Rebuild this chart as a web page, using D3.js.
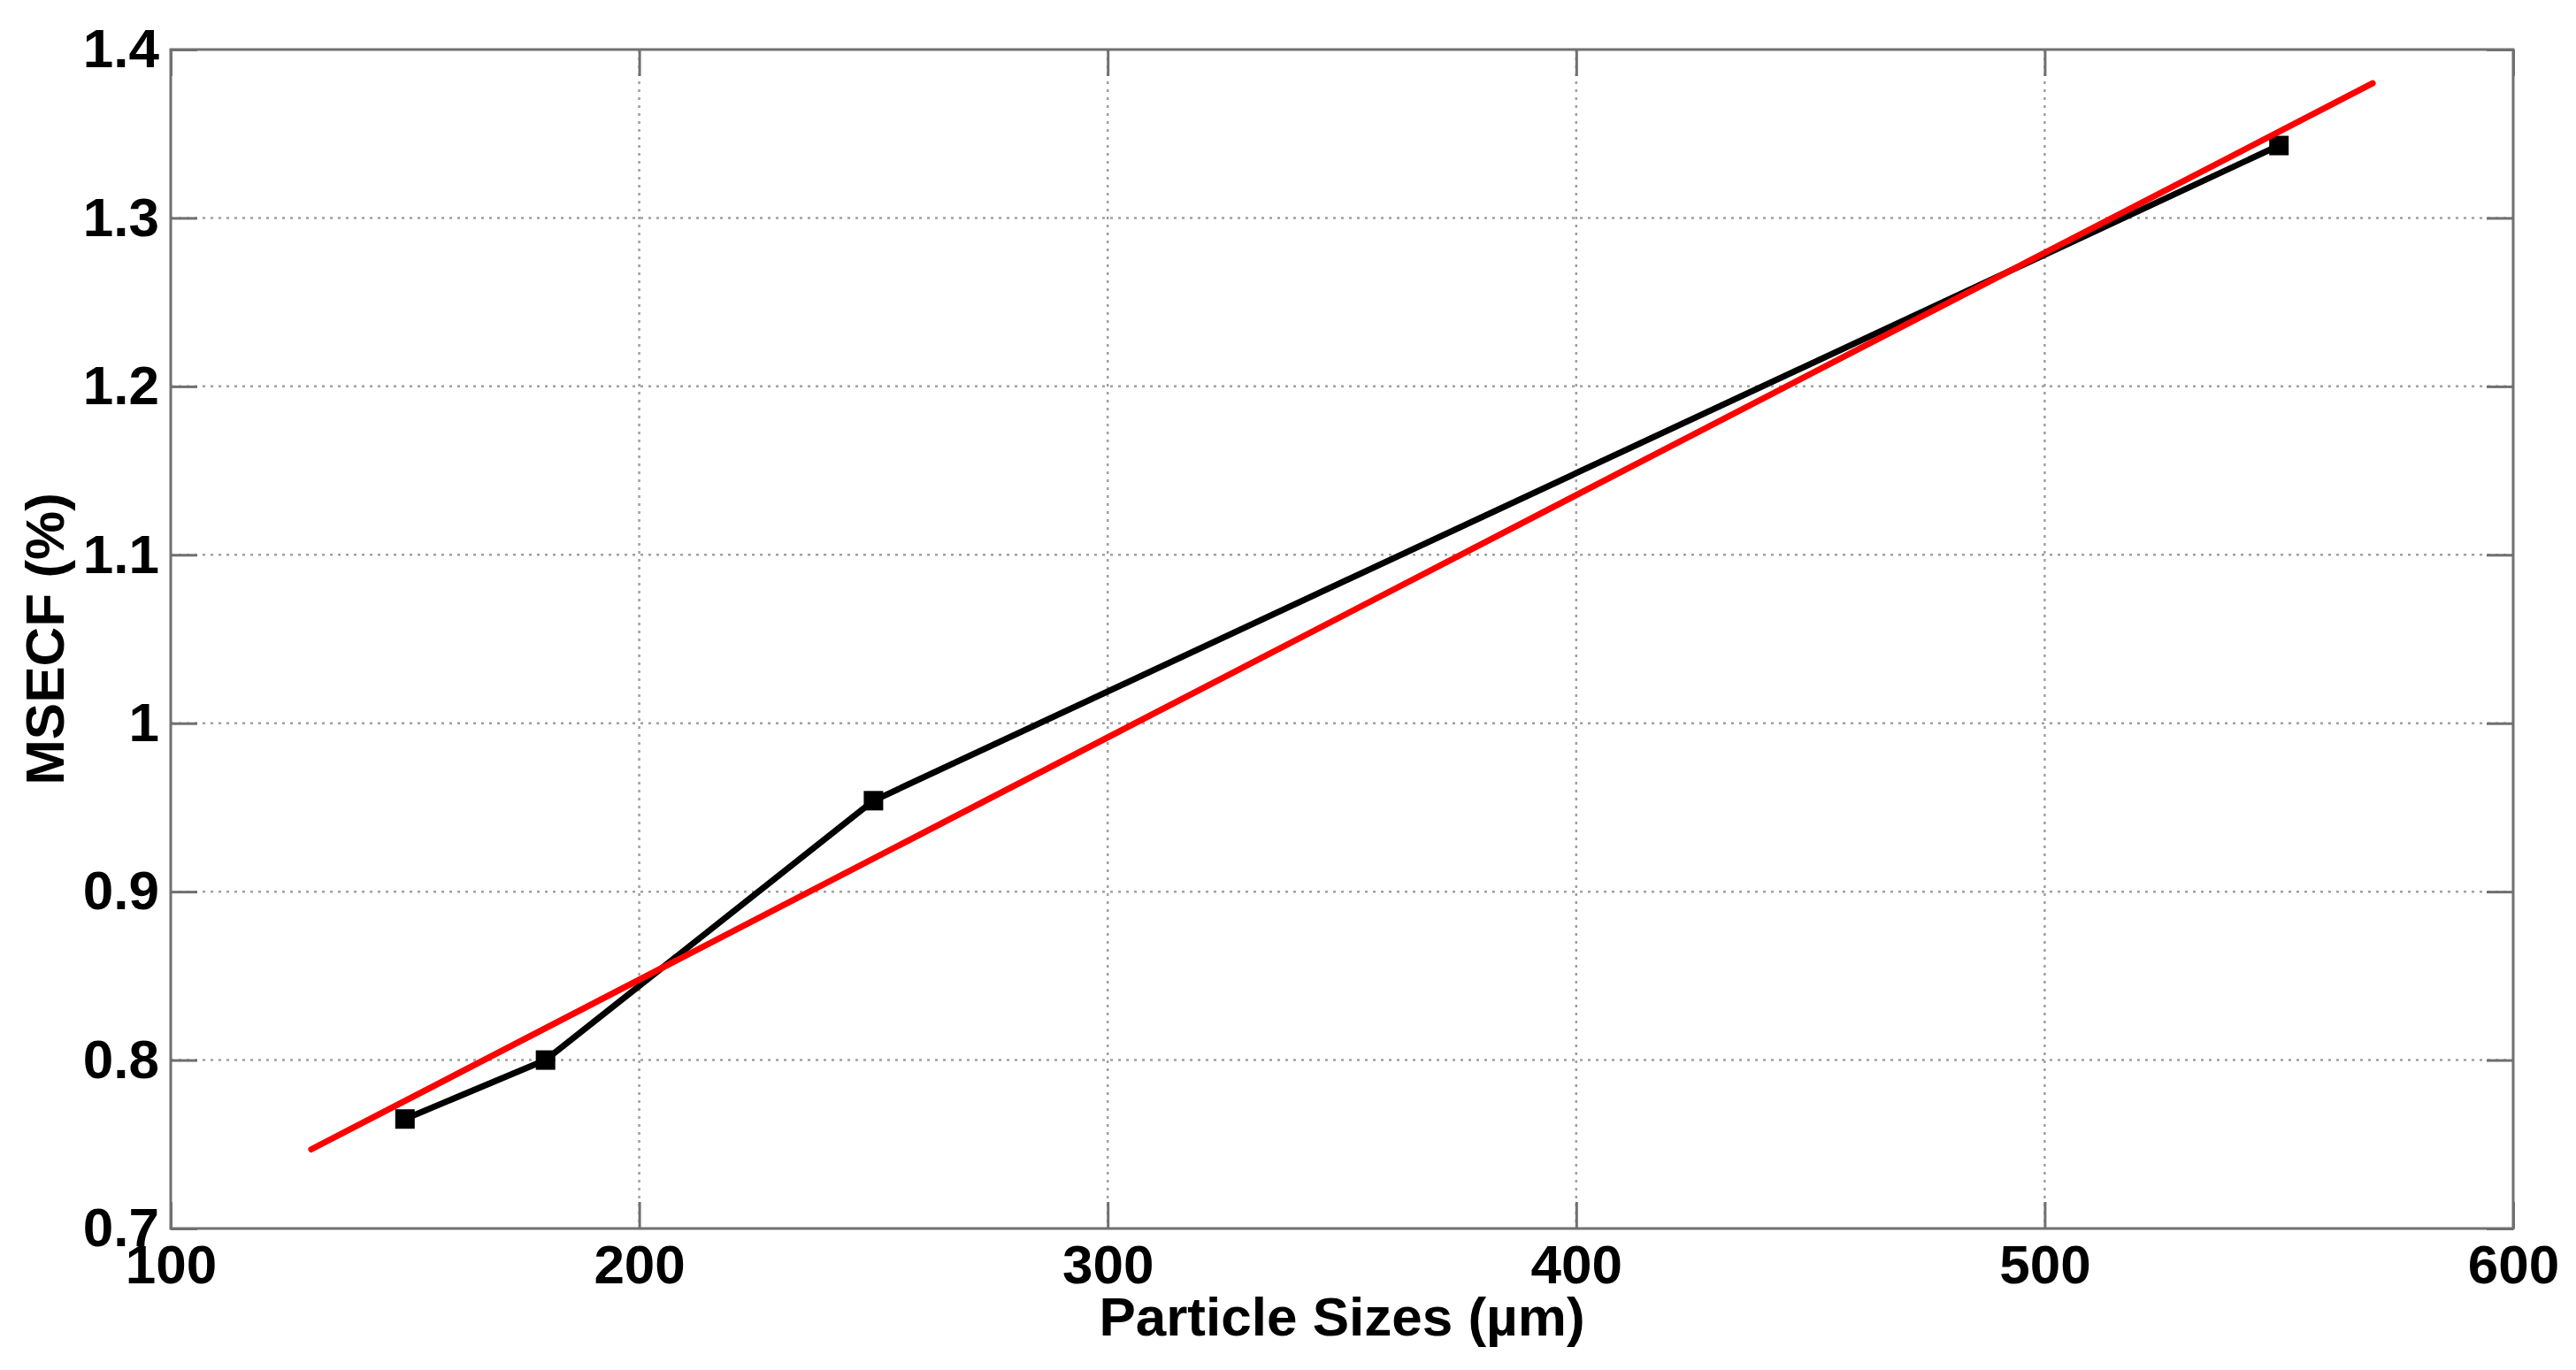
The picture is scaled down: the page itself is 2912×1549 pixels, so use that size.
<!DOCTYPE html>
<html>
<head>
<meta charset="utf-8">
<script src="https://cdn.jsdelivr.net/npm/d3@7"></script>
<style>
  body { margin: 0; background: #fff; }
  text { font-family: "Liberation Sans", Arial, sans-serif; font-weight: bold; }
</style>
</head>
<body>
<div id="chart"></div>
<script>
// measured data (particle size in um, MSECF in %)
var sizes = [150, 180, 250, 550];
var msecf = [0.765, 0.800, 0.954, 1.343];

// linear fit line, end points
var fitX = [130, 570];
var fitY = [0.747, 1.380];

var xTicks = [100, 200, 300, 400, 500, 600];
var yTicks = [0.7, 0.8, 0.9, 1, 1.1, 1.2, 1.3, 1.4];

var width = 2912;
var height = 1549;
// plot box (window.top is reserved, so no "top" here)
var plotL = 193, plotR = 2841, plotT = 56, plotB = 1389;

var svg = d3.select("#chart")
    .append("svg")
    .attr("width", width)
    .attr("height", height);

var x = d3.scaleLinear().domain([100, 600]).range([plotL, plotR]);
var y = d3.scaleLinear().domain([0.7, 1.4]).range([plotB, plotT]);

// dotted grid
var grid = svg.append("g").attr("class", "grid");

grid.selectAll(".gx")
    .data(xTicks.slice(1, -1))
    .enter().append("line")
    .attr("x1", function(d) { return x(d); })
    .attr("x2", function(d) { return x(d); })
    .attr("y1", plotT)
    .attr("y2", plotB)
    .attr("stroke", "#a0a0a0")
    .attr("stroke-width", 2.5)
    .attr("stroke-dasharray", "3,6");

grid.selectAll(".gy")
    .data(yTicks.slice(1, -1))
    .enter().append("line")
    .attr("x1", plotL)
    .attr("x2", plotR)
    .attr("y1", function(d) { return y(d); })
    .attr("y2", function(d) { return y(d); })
    .attr("stroke", "#a0a0a0")
    .attr("stroke-width", 2.5)
    .attr("stroke-dasharray", "3,6");

// axes, ticks pointing inwards on all four sides
var xAxis = d3.axisBottom(x).tickValues(xTicks).tickSize(-30).tickPadding(18)
    .tickFormat(function(d) { return String(d); });
var yAxis = d3.axisLeft(y).tickValues(yTicks).tickSize(-30).tickPadding(13)
    .tickFormat(function(d) { return String(d); });

var gx = svg.append("g").attr("transform", "translate(0," + plotB + ")").call(xAxis);
var gy = svg.append("g").attr("transform", "translate(" + plotL + ",0)").call(yAxis);
var gt = svg.append("g").attr("transform", "translate(0," + plotT + ")")
    .call(d3.axisTop(x).tickValues(xTicks).tickSize(-30).tickFormat(""));
var gr = svg.append("g").attr("transform", "translate(" + plotR + ",0)")
    .call(d3.axisRight(y).tickValues(yTicks).tickSize(-30).tickFormat(""));

[gx, gy, gt, gr].forEach(function(g) {
    g.select(".domain").remove();
    g.selectAll(".tick line").attr("stroke", "#707070").attr("stroke-width", 3);
    g.selectAll(".tick text")
        .attr("fill", "#000")
        .style("font-size", "62px");
});

// frame
svg.append("rect")
    .attr("x", plotL)
    .attr("y", plotT)
    .attr("width", plotR - plotL)
    .attr("height", plotB - plotT)
    .attr("fill", "none")
    .attr("stroke", "#707070")
    .attr("stroke-width", 3);

// measured series
var pts = sizes.map(function(d, i) { return [d, msecf[i]]; });
var line = d3.line()
    .x(function(d) { return x(d[0]); })
    .y(function(d) { return y(d[1]); });

svg.append("path")
    .datum(pts)
    .attr("d", line)
    .attr("fill", "none")
    .attr("stroke", "#000")
    .attr("stroke-width", 7)
    .attr("stroke-linejoin", "round");

svg.selectAll(".marker")
    .data(pts)
    .enter().append("rect")
    .attr("class", "marker")
    .attr("x", function(d) { return x(d[0]) - 11; })
    .attr("y", function(d) { return y(d[1]) - 11; })
    .attr("width", 22)
    .attr("height", 22)
    .attr("fill", "#000");

// fit line
var fit = fitX.map(function(d, i) { return [d, fitY[i]]; });
svg.append("path")
    .datum(fit)
    .attr("d", line)
    .attr("fill", "none")
    .attr("stroke", "#ff0000")
    .attr("stroke-width", 7)
    .attr("stroke-linecap", "round");

// axis labels
svg.append("text")
    .attr("x", (plotL + plotR) / 2)
    .attr("y", 1510)
    .attr("text-anchor", "middle")
    .style("font-size", "62px")
    .text("Particle Sizes (µm)");

svg.append("text")
    .attr("transform", "translate(72," + (plotT + plotB) / 2 + ") rotate(-90)")
    .attr("text-anchor", "middle")
    .style("font-size", "62px")
    .text("MSECF (%)");
</script>
</body>
</html>
